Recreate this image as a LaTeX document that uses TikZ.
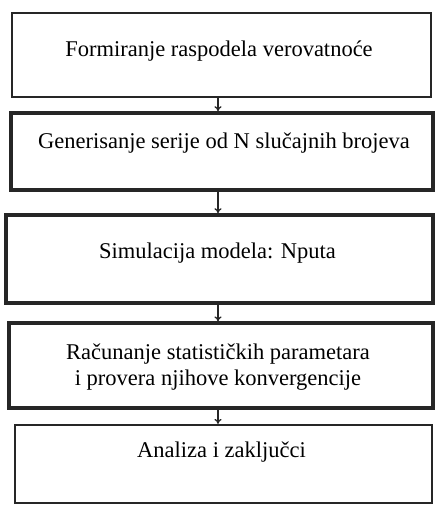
\documentclass[tikz,border=0pt]{standalone}
\usepackage{fontspec}
\setmainfont{Liberation Serif}
\usetikzlibrary{arrows.meta,positioning,calc}

\tikzset{
  box/.style={draw=black!85, rectangle, inner sep=0pt},
  txt/.style={font=\fontsize{22.5}{26}\selectfont, align=center},
  arr/.style={-{To[length=5pt,width=7pt]}, line width=1.3pt, black!85}
}

\begin{document}
\begin{tikzpicture}[x=1pt,y=-1pt]
        \useasboundingbox (0,0) rectangle (435,505);

        % boxes
        \node[box, line width=2.6pt, minimum width=419pt, minimum height=84pt] (b1) at (221.5,55) {};
        \node[box, line width=3.6pt, minimum width=422pt, minimum height=77pt] (b2) at (222,151.5) {};
        \node[box, line width=3.6pt, minimum width=427pt, minimum height=88pt] (b3) at (219.5,259) {};
        \node[box, line width=3.2pt, minimum width=424pt, minimum height=85pt] (b4) at (221,365.5) {};
        \node[box, line width=2.2pt, minimum width=417pt, minimum height=78pt] (b5) at (223.5,464) {};

        % texts
        \node[txt] (t1) at (219,51) {Formiranje raspodela verovatnoće};
        \node[txt] (t2) at (224,143) {Generisanje serije od N slučajnih brojeva};
        \node[txt] (t3) at (217.5,253) {Simulacija modela: Nputa};
        \node[txt] (t4) at (218,367) {Računanje statističkih parametara\\i provera njihove konvergencije};
        \node[txt] (t5) at (221.5,452) {Analiza i zaključci};

        % arrows
        \coordinate (ax) at (218,0);
        \draw[arr] (b1.south -| ax) -- (b2.north -| ax);
        \draw[arr] (b2.south -| ax) -- (b3.north -| ax);
        \draw[arr] (b3.south -| ax) -- (b4.north -| ax);
        \draw[arr] (b4.south -| ax) -- (b5.north -| ax);

      \end{tikzpicture}
\end{document}
